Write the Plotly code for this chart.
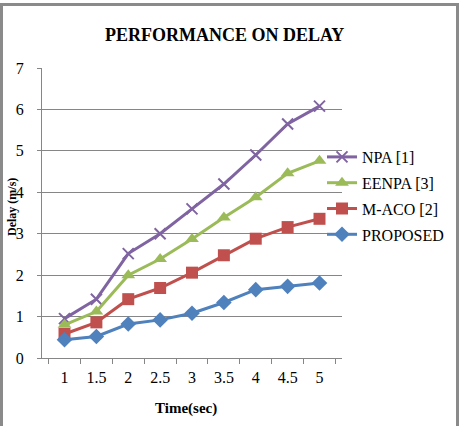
import plotly.graph_objects as go

time_labels = ["1", "1.5", "2", "2.5", "3", "3.5", "4", "4.5", "5"]
npa = [0.95, 1.42, 2.52, 3.0, 3.6, 4.2, 4.9, 5.65, 6.08]
eenpa = [0.8, 1.12, 2.0, 2.39, 2.87, 3.39, 3.88, 4.46, 4.76]
maco = [0.58, 0.86, 1.42, 1.69, 2.06, 2.48, 2.88, 3.16, 3.36]
proposed = [0.44, 0.52, 0.82, 0.92, 1.08, 1.34, 1.65, 1.73, 1.81]

series_names = ["NPA [1]", "EENPA [3]", "M-ACO [2]", "PROPOSED"]
series_vals = [npa, eenpa, maco, proposed]
colors = ["#8064A2", "#9BBB59", "#C0504D", "#4F81BD"]
symbols = ["x-thin", "triangle-up", "square", "diamond"]
msizes = [11, 12, 12, 12]

W, H = 461, 426
L, R, T, B = 42, 342, 68, 358
SERIF = "Liberation Serif"

fig = go.Figure()
for i, (name, vals) in enumerate(zip(series_names, series_vals)):
    marker = dict(symbol=symbols[i], size=msizes[i], color=colors[i])
    if symbols[i] == "x-thin":
        marker["line"] = dict(width=2, color=colors[i])
    fig.add_trace(go.Scatter(
        x=time_labels, y=vals, name=name, mode="lines+markers",
        line=dict(color=colors[i], width=3), marker=marker,
        legendgroup=name,
    ))

def px_x(p):
    return (p - L) / (R - L)

def px_y(p):
    return (B - p) / (B - T)

fig.update_layout(
    width=W, height=H,
    margin=dict(l=L, r=W - R, t=T, b=H - B),
    paper_bgcolor="white", plot_bgcolor="white",
    font=dict(family=SERIF, color="black"),
    showlegend=True,
    legend=dict(
        x=px_x(322), y=px_y(140), xanchor="left", yanchor="top",
        font=dict(family=SERIF, size=16, color="black"),
        bgcolor="rgba(0,0,0,0)", tracegroupgap=2,
        traceorder="grouped",
    ),
    xaxis=dict(
        type="category", showgrid=False, showline=True, linecolor="#868686",
        linewidth=1, ticks="outside", ticklen=5, tickcolor="#868686",
        tickson="boundaries", tickfont=dict(family=SERIF, size=16),
        ticklabelstandoff=5, zeroline=False,
    ),
    yaxis=dict(
        range=[0, 7], dtick=1, showgrid=True, gridcolor="#868686", gridwidth=1,
        showline=True, linecolor="#868686", linewidth=1, ticks="outside",
        ticklen=4, tickcolor="#868686", tickfont=dict(family=SERIF, size=16),
        ticklabelstandoff=10, zeroline=False,
    ),
    annotations=[
        dict(text="<b>PERFORMANCE ON DELAY</b>", xref="paper", yref="paper",
             x=px_x(224), y=px_y(35), xanchor="center", yanchor="middle",
             showarrow=False, font=dict(family=SERIF, size=18, color="black")),
        dict(text="<b>Delay (m/s)</b>", xref="paper", yref="paper",
             x=px_x(12), y=px_y(207), xanchor="center", yanchor="middle",
             textangle=-90, showarrow=False,
             font=dict(family=SERIF, size=12, color="black")),
        dict(text="<b>Time(sec)</b>", xref="paper", yref="paper",
             x=px_x(186), y=px_y(408), xanchor="center", yanchor="middle",
             showarrow=False, font=dict(family=SERIF, size=15, color="black")),
    ],
    shapes=[
        dict(type="rect", xref="paper", yref="paper",
             x0=px_x(1.5), x1=px_x(457.5), y0=px_y(432), y1=px_y(4.5),
             line=dict(color="#8a8a8a", width=3), fillcolor="rgba(0,0,0,0)",
             layer="above"),
    ],
)

fig.write_html("out.html")
